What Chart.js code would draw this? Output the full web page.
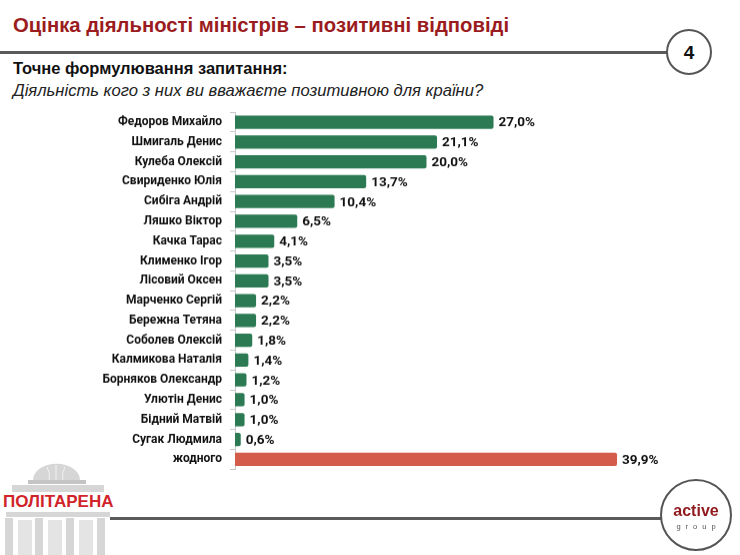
<!DOCTYPE html>
<html>
<head>
<meta charset="utf-8">
<script src="https://cdn.jsdelivr.net/npm/chart.js@4"></script>
<style>
  html,body{margin:0;padding:0;background:#fff;}
  body{width:740px;height:555px;position:relative;overflow:hidden;font-family:"Liberation Sans",Arial,sans-serif;}
  .t{position:absolute;white-space:nowrap;line-height:1;}
  #title{left:13px;top:15px;font-size:20.3px;font-weight:bold;color:#9b1c20;}
  #topline{position:absolute;left:0;top:51px;width:668px;height:3px;background:#5a5a5a;}
  #pagecirc{position:absolute;left:666px;top:29px;width:42px;height:42px;border:2px solid #555;border-radius:50%;background:#fff;text-align:center;line-height:44px;font-size:19px;font-weight:bold;color:#111;}
  #q1{left:13px;top:60px;font-size:16.5px;font-weight:bold;color:#111;}
  #q2{left:13px;top:83px;font-size:16.6px;font-style:italic;color:#222;}
  #chartbox{position:absolute;left:0;}
  #botline{position:absolute;left:110px;top:516.5px;width:552px;height:3px;background:#5a5a5a;}
  #agcirc{position:absolute;left:660px;top:479px;width:68px;height:68px;border:2px solid #555;border-radius:50%;background:#fff;}
  #agcirc .a{position:absolute;left:0;right:0;top:22px;text-align:center;font-size:16px;font-weight:bold;color:#8e1a1e;line-height:16px;}
  #agcirc .g{position:absolute;left:0;right:0;top:42px;text-align:center;font-size:7.5px;letter-spacing:5px;color:#555;line-height:8px;padding-left:5px;}
  #logo{position:absolute;left:0;top:462px;width:112px;height:93px;}
  #logotext{left:3px;top:492.6px;font-size:17px;font-weight:bold;color:#d0232a;}
</style>
</head>
<body>
<div id="title" class="t">Оцінка діяльності міністрів – позитивні відповіді</div>
<div id="topline"></div>
<div id="pagecirc">4</div>
<div id="q1" class="t">Точне формулювання запитання:</div>
<div id="q2" class="t">Діяльність кого з них ви вважаєте позитивною для країни?</div>

<svg id="logo" viewBox="0 0 112 93" xmlns="http://www.w3.org/2000/svg">
  <g fill="#d6d6d6">
    <path d="M33 18 A23 16 0 0 1 80 18 Z"/>
    <rect x="28" y="18" width="58" height="4" fill="#c4c4c4"/>
    <rect x="12" y="23" width="92" height="7"/>
    <rect x="6" y="50" width="104" height="5"/>
    <rect x="5" y="56" width="8" height="37"/>
    <rect x="18" y="58" width="14" height="35" fill="#e4e4e4"/>
    <rect x="35" y="56" width="8" height="37"/>
    <rect x="48" y="58" width="14" height="35" fill="#e4e4e4"/>
    <rect x="66" y="56" width="8" height="37"/>
    <rect x="79" y="58" width="14" height="35" fill="#e4e4e4"/>
    <rect x="97" y="56" width="8" height="37"/>
  </g>
  <path d="M56 3 L56 18 M47 5 Q51 11 49 18 M65 5 Q61 11 63 18" stroke="#f2f2f2" stroke-width="1" fill="none"/>
</svg>
<div id="logotext" class="t">ПОЛІТАРЕНА</div>

<div id="chartbox"><canvas id="c"></canvas></div>
<div id="botline"></div>
<div id="agcirc"><div class="a">active</div><div class="g">group</div></div>

<script>
const categories = ["Федоров Михайло","Шмигаль Денис","Кулеба Олексій","Свириденко Юлія","Сибіга Андрій","Ляшко Віктор","Качка Тарас","Клименко Ігор","Лісовий Оксен","Марченко Сергій","Бережна Тетяна","Соболев Олексій","Калмикова Наталія","Борняков Олександр","Улютін Денис","Бідний Матвій","Сугак Людмила","жодного"];
const values = [27.0,21.1,20.0,13.7,10.4,6.5,4.1,3.5,3.5,2.2,2.2,1.8,1.4,1.2,1.0,1.0,0.6,39.9];
const barColors = values.map((v,i)=> i===values.length-1 ? "#d45c4a" : "#2b7a53");

// chart area target: top 112.5, bottom 468.5; axis at x=235
const tickFont = 12, tickPad = 8;
const vPad = tickFont*1.2/2 + tickPad;
const box = document.getElementById('chartbox');
box.style.top = (112.5 - vPad) + 'px';
box.style.height = (356 + 2*vPad) + 'px';
box.style.width = '740px';

const valueLabels = {
  id:'valueLabels',
  afterDatasetsDraw(chart){
    const ctx = chart.ctx;
    const meta = chart.getDatasetMeta(0);
    ctx.save();
    ctx.font = "bold 13.5px Roboto, 'Open Sans', sans-serif";
    ctx.fillStyle = "#111";
    ctx.textBaseline = "middle";
    ctx.textAlign = "left";
    meta.data.forEach((bar,i)=>{
      const t = values[i].toFixed(1).replace('.',',') + '%';
      ctx.fillText(t, bar.x + 5, bar.y + 1);
    });
    ctx.restore();
  }
};

new Chart(document.getElementById('c'), {
  type:'bar',
  data:{labels:categories, datasets:[{data:values, backgroundColor:barColors, borderRadius:2, borderSkipped:'start', barPercentage:0.67, categoryPercentage:1}]},
  options:{
    indexAxis:'y',
    responsive:true, maintainAspectRatio:false, animation:false,
    layout:{padding:{top:0,bottom:0,left:0,right:122}},
    plugins:{legend:{display:false}, tooltip:{enabled:false}},
    scales:{
      x:{display:false, min:0, max:40},
      y:{
        afterFit(s){ s.width = 235; },
        grid:{display:true, drawOnChartArea:false, tickLength:5, color:"#c8c8c8", offset:true},
        border:{display:true, color:"#c8c8c8", width:1},
        ticks:{color:"#111", font:{family:"Roboto, 'Open Sans', sans-serif", weight:'bold', size:tickFont}, padding:tickPad}
      }
    }
  },
  plugins:[valueLabels]
});
</script>
</body>
</html>
